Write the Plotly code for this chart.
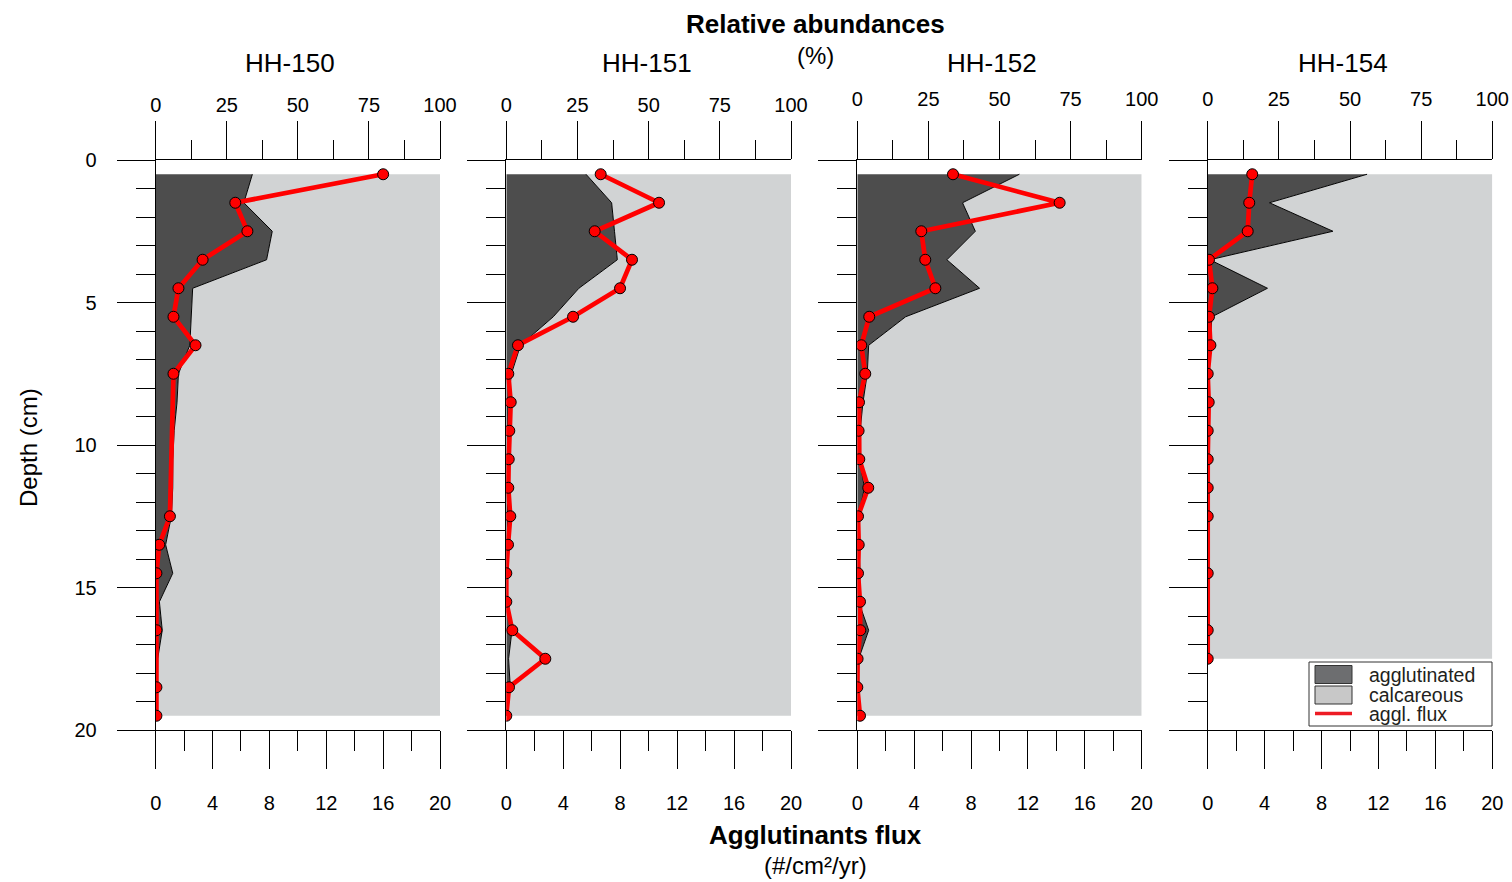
import plotly.graph_objects as go

# ---------------- data ----------------
cores = ["HH-150", "HH-151", "HH-152", "HH-154"]

depth_pct_150 = [0.5, 1.5, 2.5, 3.5, 4.5, 5.5, 6.5, 7.5, 8.5, 9.5, 10.5, 11.5, 12.5, 13.5, 14.5, 15.5, 16.5, 17.5, 18.5, 19.5]
aggl_150 = [34, 31, 41, 39, 13, 12.5, 12, 8, 7.5, 6.5, 6, 6, 5.5, 3.5, 6, 1.3, 2.3, 0.7, 0.5, 0.5]
depth_flux_150 = [0.5, 1.5, 2.5, 3.5, 4.5, 5.5, 6.5, 7.5, 12.5, 13.5, 14.5, 16.5, 18.5, 19.5]
flux_150 = [16.0, 5.6, 6.45, 3.3, 1.6, 1.25, 2.8, 1.25, 1.0, 0.25, 0.05, 0.05, 0.05, 0.05]

depth_pct_151 = [0.5, 1.5, 2.5, 3.5, 4.5, 5.5, 6.5, 7.5, 8.5, 9.5, 10.5, 11.5, 12.5, 13.5, 14.5, 15.5, 16.5, 17.5, 18.5, 19.5]
aggl_151 = [28, 37, 38, 39, 25.5, 16.5, 5, 1.8, 0.6, 0.4, 0.4, 0.4, 0.4, 0.4, 0.4, 0.4, 2, 0.8, 1.4, 0.3]
depth_flux_151 = [0.5, 1.5, 2.5, 3.5, 4.5, 5.5, 6.5, 7.5, 8.5, 9.5, 10.5, 11.5, 12.5, 13.5, 14.5, 15.5, 16.5, 17.5, 18.5, 19.5]
flux_151 = [6.63, 10.73, 6.21, 8.83, 7.99, 4.69, 0.82, 0.14, 0.31, 0.21, 0.17, 0.14, 0.28, 0.12, 0.0, 0.0, 0.42, 2.74, 0.19, 0.0]

depth_pct_152 = [0.5, 1.5, 2.5, 3.5, 4.5, 5.5, 6.5, 7.5, 8.5, 9.5, 10.5, 11.5, 12.5, 13.5, 14.5, 15.5, 16.5, 17.5, 18.5, 19.5]
aggl_152 = [57, 37, 41.5, 31.5, 43, 17, 4, 3.5, 2, 1, 0.8, 2.5, 0.5, 0.5, 1, 0.5, 4, 0.5, 0.5, 0.5]
depth_flux_152 = [0.5, 1.5, 2.5, 3.5, 4.5, 5.5, 6.5, 7.5, 8.5, 9.5, 10.5, 11.5, 12.5, 13.5, 14.5, 15.5, 16.5, 17.5, 18.5, 19.5]
flux_152 = [6.73, 14.23, 4.5, 4.78, 5.49, 0.84, 0.28, 0.56, 0.12, 0.09, 0.14, 0.77, 0.05, 0.1, 0.05, 0.19, 0.21, 0.02, 0.0, 0.19]

depth_pct_154 = [0.5, 1.5, 2.5, 3.5, 4.5, 5.5, 6.5, 7.5, 8.5, 9.5, 10.5, 11.5, 12.5, 13.5, 14.5, 15.5, 16.5, 17.5]
aggl_154 = [56, 21.7, 44, 0.8, 21, 1.5, 0.8, 0.3, 0.3, 0.3, 0.3, 0.3, 0.3, 0.3, 0.3, 0.3, 0.3, 0.3]
depth_flux_154 = [0.5, 1.5, 2.5, 3.5, 4.5, 5.5, 6.5, 7.5, 8.5, 9.5, 10.5, 11.5, 12.5, 14.5, 16.5, 17.5]
flux_154 = [3.13, 2.92, 2.81, 0.09, 0.33, 0.09, 0.19, 0.0, 0.07, 0.0, 0.0, 0.0, 0.0, 0.0, 0.0, 0.0]

pct_ticks = [0, 25, 50, 75, 100]
flux_ticks = [0, 4, 8, 12, 16, 20]
depth_ticks = [0, 5, 10, 15, 20]

legend_labels = ["agglutinated", "calcareous", "aggl. flux"]

panels = [
    (depth_pct_150, aggl_150, depth_flux_150, flux_150),
    (depth_pct_151, aggl_151, depth_flux_151, flux_151),
    (depth_pct_152, aggl_152, depth_flux_152, flux_152),
    (depth_pct_154, aggl_154, depth_flux_154, flux_154),
]

# ---------------- style ----------------
FONT = "Liberation Sans, Arial, sans-serif"
DARK = "#4d4d4d"
LIGHT = "#d1d3d4"
RED = "#ff0000"

W, H = 1512, 882


def px(x):
    return x / W


def py(y):
    return 1 - y / H


x_px = [(155.7, 440.0), (506.3, 791.0), (857.3, 1141.7), (1207.7, 1492.3)]
y_dom = [py(730), py(160)]
top_standoff = [1, 1, 7, 7]

fig = go.Figure()

for i, (dp, ag, df, fx) in enumerate(panels):
    n = i + 1
    xa_pct = "x" if n == 1 else f"x{n}"
    xa_flux = f"x{n + 4}"
    ya = "y" if n == 1 else f"y{n}"
    calc = [100 - a for a in ag]
    total = [a + c for a, c in zip(ag, calc)]
    fig.add_trace(go.Scatter(x=ag, y=dp, xaxis=xa_pct, yaxis=ya, mode="lines",
                             line=dict(color="black", width=1), fill="tozerox",
                             fillcolor=DARK, showlegend=False, hoverinfo="skip"))
    fig.add_trace(go.Scatter(x=total, y=dp, xaxis=xa_pct, yaxis=ya, mode="lines",
                             line=dict(color=LIGHT, width=0), fill="tonextx",
                             fillcolor=LIGHT, showlegend=False, hoverinfo="skip"))
    fig.add_trace(go.Scatter(x=fx, y=df, xaxis=xa_flux, yaxis=ya, mode="lines+markers",
                             line=dict(color=RED, width=4.7),
                             marker=dict(size=11, color=RED, line=dict(color="black", width=1)),
                             showlegend=False))

    dom = [px(x_px[i][0]), px(x_px[i][1])]
    common_tick = dict(ticks="outside", tickcolor="black", tickwidth=1,
                       showline=True, linecolor="black", linewidth=1,
                       showgrid=False, zeroline=False, automargin=False,
                       tickfont=dict(family=FONT, size=20, color="black"))
    fig.layout[("xaxis" if n == 1 else f"xaxis{n}")] = dict(
        domain=dom, anchor=ya, side="top", range=[0, 100],
        tickmode="array", tickvals=pct_ticks, ticklen=38,
        minor=dict(dtick=12.5, tick0=0, ticklen=19, tickcolor="black", tickwidth=1, ticks="outside"),
        ticklabelstandoff=top_standoff[i], **common_tick)
    fig.layout[f"xaxis{n + 4}"] = dict(
        domain=dom, anchor=ya, side="bottom", overlaying=xa_pct, range=[0, 20],
        tickmode="array", tickvals=flux_ticks, ticklen=38,
        minor=dict(dtick=2, tick0=0, ticklen=20, tickcolor="black", tickwidth=1, ticks="outside"),
        ticklabelstandoff=17, **common_tick)
    fig.layout[("yaxis" if n == 1 else f"yaxis{n}")] = dict(
        domain=y_dom, anchor=xa_pct, range=[20, 0],
        tickmode="array", tickvals=depth_ticks, ticklen=38,
        minor=dict(dtick=1, tick0=0, ticklen=19, tickcolor="black", tickwidth=1, ticks="outside"),
        showticklabels=(n == 1), ticklabelstandoff=16, **common_tick)

ann = []


def text(s, x, y, size, bold=False, angle=0, anchor="center", color="black"):
    ann.append(dict(text=f"<b>{s}</b>" if bold else s, x=px(x), y=py(y), xref="paper", yref="paper",
                    xanchor=anchor, yanchor="middle", showarrow=False, textangle=angle,
                    font=dict(family=FONT, size=size, color=color)))


text("Relative abundances", 815, 24, 26, bold=True)
text("(%)", 815, 55, 24)
for name, cx in zip(cores, [290, 647, 992, 1343]):
    text(name, cx, 63, 26)
text("Depth (cm)", 28, 448, 24, angle=-90)
text("Agglutinants flux", 815, 835, 26, bold=True)
text("(#/cm²/yr)", 815, 865, 24)

# ---- legend box (lower right of the last panel) ----
LEG_TXT = "#231f20"
shapes = []


def rect(x0, y0, x1, y1, fill, line_color, lw=1):
    shapes.append(dict(type="rect", xref="paper", yref="paper", x0=px(x0), x1=px(x1),
                       y0=py(y0), y1=py(y1), fillcolor=fill,
                       line=dict(color=line_color, width=lw), layer="above"))


rect(1309, 662, 1492, 726, "white", "#333333")
rect(1315, 665.5, 1352, 683.5, "#6d6e70", "#333333")
rect(1315, 686, 1352, 704, "#c8c8c8", "#333333")
shapes.append(dict(type="line", xref="paper", yref="paper", x0=px(1315), x1=px(1352),
                   y0=py(713.5), y1=py(713.5), line=dict(color="#ed1c24", width=3.5),
                   layer="above"))
for lab, yy in zip(legend_labels, [674.5, 694.5, 713.5]):
    text(lab, 1367, yy, 19.5, anchor="left", color=LEG_TXT)

fig.update_layout(
    width=W, height=H, margin=dict(l=0, r=0, t=0, b=0, pad=0, autoexpand=False),
    paper_bgcolor="white", plot_bgcolor="rgba(0,0,0,0)",
    font=dict(family=FONT, color="black"),
    annotations=ann, shapes=shapes,
    showlegend=False,
)

fig.write_html("out.html")
